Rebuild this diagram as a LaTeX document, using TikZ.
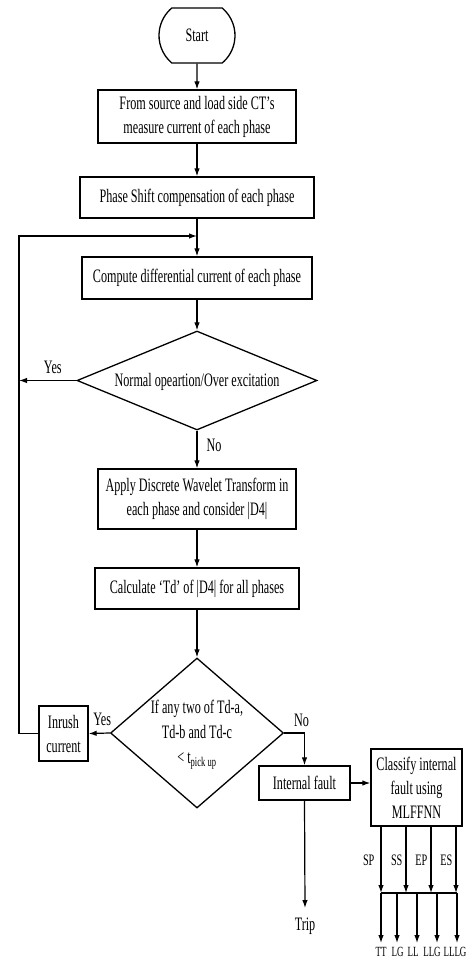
\documentclass[tikz,border=0pt]{standalone}
\usepackage{fontspec}
\setmainfont{Liberation Serif}[FakeStretch=0.64]
\usetikzlibrary{arrows.meta,shapes.misc,shapes.geometric}
\begin{document}
\begin{tikzpicture}[x=1pt,y=-1pt,
  every node/.style={font=\fontsize{19}{24}\selectfont, inner sep=0pt},
  box/.style={draw, line width=1.3pt, align=center},
  dia/.style={draw, diamond, line width=1.3pt},
  arr/.style={-{Latex[length=8pt,width=5.5pt]}, line width=1.2pt},
  ln/.style={line width=1.2pt},
  small/.style={font=\fontsize{16}{18}\selectfont},
  tiny/.style={font=\fontsize{14}{16}\selectfont}
]
\useasboundingbox[fill=white] (0,0) rectangle (476,961);

% nodes
\node[draw, line width=1.3pt, rounded rectangle, rounded rectangle arc length=100,
      minimum width=76pt, minimum height=55pt] (start) at (197,35.5) {Start};
\node[box, minimum width=198pt, minimum height=53pt] (b1) at (197,116.5)
  {From source and load side CT's\\measure current of each phase};
\node[box, minimum width=234pt, minimum height=41pt] (b2) at (197,197.5)
  {Phase Shift compensation of each phase};
\node[box, minimum width=230pt, minimum height=42pt] (b3) at (197,278)
  {Compute differential current of each phase};
\node[dia, minimum width=240pt, minimum height=99pt] (d1) at (197,380.5) {};
\node (d1t) at (197,382) {Normal opeartion/Over excitation};
\node[box, minimum width=198pt, minimum height=60pt] (b4) at (197,499)
  {Apply Discrete Wavelet Transform in\\each phase and consider |D4|};
\node[box, minimum width=204pt, minimum height=41pt] (b5) at (197,588.5)
  {Calculate `Td' of |D4| for all phases};
\node[dia, minimum width=173pt, minimum height=150pt] (d2) at (197,733) {};
\node[align=center, font=\fontsize{19}{25}\selectfont] (d2t) at (197,735)
  {If any two of Td-a,\\Td-b and Td-c\\< t\textsubscript{pick up}};
\node[box, minimum width=49pt, minimum height=55pt] (inr) at (63.5,733.5)
  {Inrush\\current};
\node[box, minimum width=91pt, minimum height=34pt] (intf) at (304.5,783)
  {Internal fault};
\node[box, minimum width=91pt, minimum height=77pt] (cls) at (416.5,787.5)
  {Classify internal\\fault using\\MLFFNN};
\node[anchor=north, outer sep=10pt] (trip) at (305,908) {Trip};

% coordinates
\coordinate (m) at (197,236);
\coordinate (ct) at (19,236);
\coordinate (cl) at (19,733.5);
\coordinate (o1) at (381,893);
\coordinate (o2) at (406,893);
\coordinate (o3) at (431,893);
\coordinate (o4) at (456,893);
\coordinate (p1) at (381,893);
\coordinate (p2) at (397,893);
\coordinate (p3) at (417,893);
\coordinate (p4) at (437,893);
\coordinate (p5) at (457,893);
\coordinate (q1) at (381,943);
\coordinate (q2) at (397,943);
\coordinate (q3) at (417,943);
\coordinate (q4) at (437,943);
\coordinate (q5) at (457,943);

% main flow
\draw[arr] (start) -- (b1);
\draw[arr] (b1) -- (b2);
\draw[arr] (b2) -- (b3);
\draw[arr] (b3) -- (d1);
\draw[arr] (d1) -- node[pos=0.4, right=9pt] {No} (b4);
\draw[arr] (b4) -- (b5);
\draw[arr] (b5) -- (d2);

% yes loops
\draw[arr] (d1.west) -- node[pos=0.41, above=6pt] {Yes} (d1.west -| cl);
\draw[arr] (d2.west) -- node[pos=0.36, above=7pt] {Yes} (inr.east);
\draw[arr] (inr.west) -- (cl) -- (ct) -- (m);

% no branch
\draw[arr] (d2.east) -| node[pos=0.5, above=6pt, xshift=-3pt] {No} (intf.north);
\draw[arr] (intf.east) -- (intf.east -| cls.west);
\draw[arr] (intf.south) -- (trip.north);

% classifier outputs
\draw[arr] (cls.south -| o1) -- node[small, left=6pt] {SP} (o1);
\draw[arr] (cls.south -| o2) -- node[small, left=3pt] {SS} (o2);
\draw[arr] (cls.south -| o3) -- node[small, left=3pt] {EP} (o3);
\draw[arr] (cls.south -| o4) -- node[small, left=3pt] {ES} (o4);
\draw[ln] (p1) -- (p5);
\draw[arr] (p1) -- (q1);
\draw[arr] (p2) -- (q2);
\draw[arr] (p3) -- (q3);
\draw[arr] (p4) -- (q4);
\draw[arr] (p5) -- (q5);
\node[tiny, anchor=north] (tt) at (381,947) {TT};
\node[tiny, anchor=north] (lg) at (397.5,947) {LG};
\node[tiny, anchor=north] (ll) at (413,947) {LL};
\node[tiny, anchor=north] (llg) at (432,947) {LLG};
\node[tiny, anchor=north] (lllg) at (455,947) {LLLG};
\end{tikzpicture}
\end{document}
